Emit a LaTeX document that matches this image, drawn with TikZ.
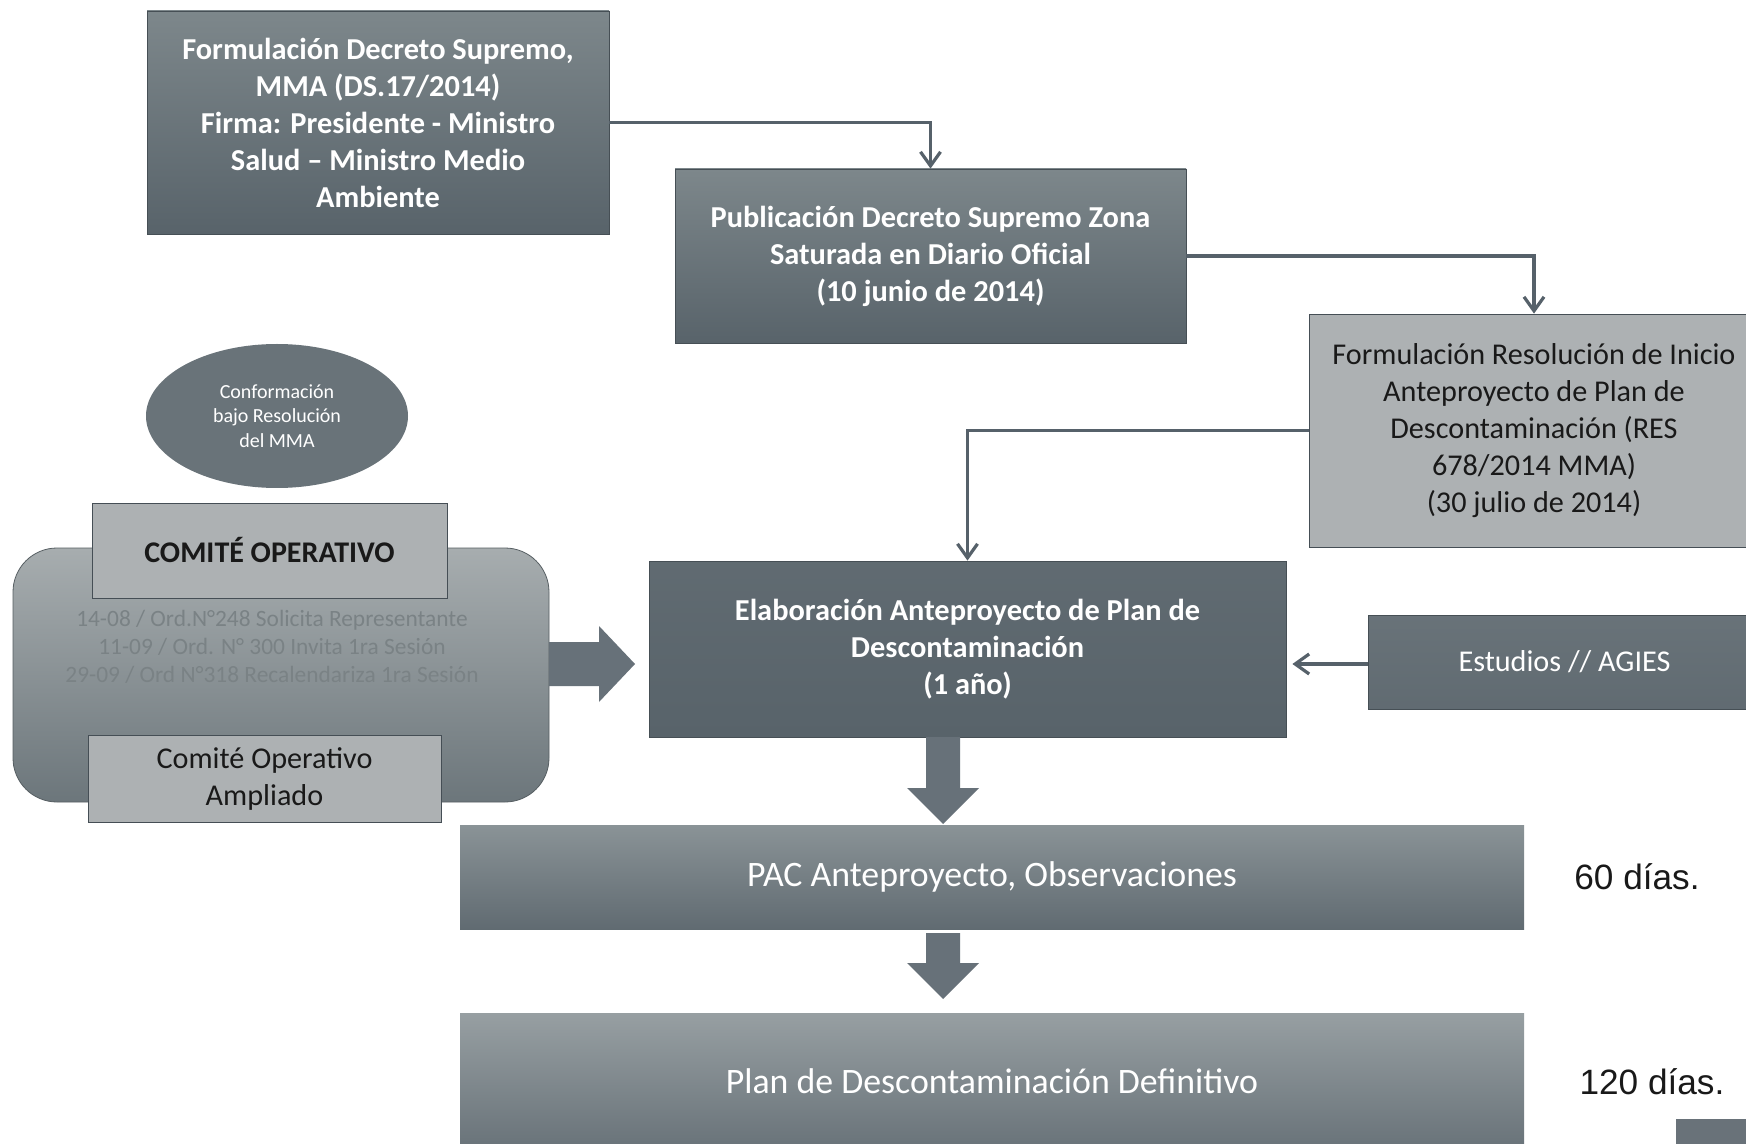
\documentclass[tikz,border=0pt]{standalone}
\usepackage{fontspec}
\setmainfont{Carlito}
\newfontfamily\arialfont{Liberation Sans}
\usetikzlibrary{arrows.meta, positioning, shapes.geometric}
\definecolor{darktop}{HTML}{7D878B}
\definecolor{darkbot}{HTML}{58636A}
\definecolor{lightfill}{HTML}{ADB1B3}
\definecolor{linegray}{HTML}{56616A}
\definecolor{roundtop}{HTML}{A7ADAF}
\definecolor{roundbot}{HTML}{6C767B}
\definecolor{listgray}{HTML}{7A8285}
\tikzset{
    darkbox/.style={rectangle, inner sep=0pt, top color=darktop, bottom color=darkbot, draw=darkbot!80!black, line width=.4pt, text=white, align=center, font=\bfseries\fontsize{15.2}{18.5}\selectfont},
    lightbox/.style={rectangle, inner sep=0pt, fill=lightfill, draw=linegray!80!black, line width=.4pt, text=black!90, align=center, font=\fontsize{15.1}{18.5}\selectfont},
    widebox/.style={rectangle, inner sep=0pt, minimum width=532pt, text=white, font=\fontsize{17.9}{20}\selectfont},
    link/.style={draw=linegray, line width=1.6pt, -{Straight Barb[length=7pt,width=10pt]}},
    blockarrow/.style={fill=linegray!90},
    days/.style={font=\arialfont\fontsize{17.6}{20}\selectfont, text=black!90}
}
\begin{document}
\begin{tikzpicture}[x=.5pt, y=-.5pt]
    \useasboundingbox[fill=white] (0,0) rectangle (1746,1144);
    \node[darkbox, minimum width=231pt, minimum height=111.5pt] (dec) at (378,122.5) {Formulación Decreto Supremo,\\MMA (DS.17/2014)\\Firma: Presidente - Ministro\\Salud -- Ministro Medio\\Ambiente};
    \node[darkbox, minimum width=255.5pt, minimum height=87pt] (pub) at (930.5,256) {Publicación Decreto Supremo Zona\\Saturada en Diario Oficial\\(10 junio de 2014)};
    \node[lightbox, minimum width=225pt, minimum height=116.5pt] (res) at (1534,430.5) {Formulación Resolución de Inicio\\Anteproyecto de Plan de\\Descontaminación (RES\\678/2014 MMA)\\(30 julio de 2014)};
    \node[ellipse, fill=darkbot!90, minimum width=131pt, minimum height=72pt, inner sep=0pt, text=white, align=center, font=\fontsize{10}{12.2}\selectfont] (conf) at (277,416) {Conformación\\bajo Resolución\\del MMA};
    \node[rectangle, rounded corners=22pt, minimum width=268pt, minimum height=127pt, top color=roundtop, bottom color=roundbot, draw=roundbot!80!black, line width=.4pt] (com) at (281,675) {};
    \node[lightbox, minimum width=177.5pt, minimum height=47.5pt, font=\bfseries\fontsize{15}{18.5}\selectfont] (comtit) at (269.5,550.5) {COMITÉ OPERATIVO};
    \node[text=listgray, align=center, font=\fontsize{11.7}{14}\selectfont] (comlist) at (272,647) {14-08 / Ord.N°248 Solicita Representante\\11-09 / Ord. N° 300 Invita 1ra Sesión\\29-09 / Ord N°318 Recalendariza 1ra Sesión};
    \node[lightbox, minimum width=176.5pt, minimum height=43.5pt] (comamp) at (264.5,778.5) {Comité Operativo\\Ampliado};
    \node[darkbox, minimum width=318.5pt, minimum height=88pt, top color=darkbot!95!white, bottom color=darkbot] (elab) at (967.5,649) {Elaboración Anteproyecto de Plan de\\Descontaminación\\(1 año)};
    \node[darkbox, minimum width=196.5pt, minimum height=47pt, font=\fontsize{15.1}{18}\selectfont, top color=darkbot!90!white, bottom color=darkbot!95!white] (est) at (1564.5,662) {Estudios // AGIES};
    \node[widebox, minimum height=52pt, top color=darktop!90!white, bottom color=darkbot!95!white] (pac) at (992,877) {PAC Anteproyecto, Observaciones};
    \node[widebox, minimum height=68pt, top color=darktop!80!white, bottom color=darkbot!90!white] (plan) at (992,1081) {Plan de Descontaminación Definitivo};
    \node[days] (d60) at (1637,877) {60 días.};
    \node[days] (d120) at (1652,1082) {120 días.};
    \fill[darkbot!90] (1676,1119) rectangle (1760,1150);
    \draw[link] (dec.east) -| (pub.north);
    \draw[link] (pub.east) -| (res.north);
    \draw[link] (res.west) -| (elab.north);
    \draw[link, shorten >=3pt] (est.west |- 0,664) -- (elab.east |- 0,664);
    \fill[blockarrow] (549,642) -- (599,642) -- (599,626) -- (635,664) -- (599,702) -- (599,686) -- (549,686) -- cycle;
    \foreach \ya/\yb in {737/824, 933/999}
    {
        \fill[blockarrow] (926,\ya) -- (960,\ya) -- (960,\yb-36) -- (979,\yb-36) -- (943,\yb) -- (907,\yb-36) -- (926,\yb-36) -- cycle;
    }
\end{tikzpicture}
\end{document}
